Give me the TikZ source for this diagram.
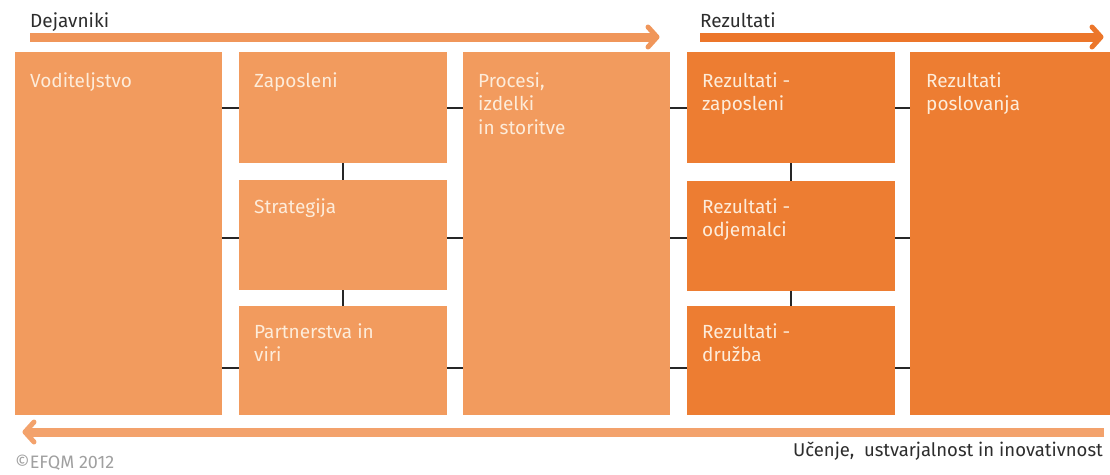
\documentclass[tikz,border=0pt]{standalone}
\usepackage{fontspec}
\setmainfont{Fira Sans}
\usetikzlibrary{calc}
\definecolor{dej}{RGB}{242,155,94}
\definecolor{rez}{RGB}{237,125,50}
\definecolor{dejbar}{RGB}{240,150,90}
\definecolor{rezbar}{RGB}{236,118,42}
\definecolor{learnbar}{RGB}{243,162,108}
\definecolor{boxtext}{RGB}{253,236,218}
\definecolor{head}{RGB}{45,45,45}
\definecolor{copy}{RGB}{160,160,160}
\newcommand{\lines}[1]{\begin{tabular}[t]{@{}l@{}}#1\end{tabular}}
\begin{document}
\begin{tikzpicture}[x=1pt,y=-1pt,
  box/.style={anchor=north west, inner sep=0pt, outer sep=0pt},
  lbl/.style={anchor=base west, inner sep=0pt, text=boxtext, font=\fontsize{19}{23.5}\selectfont},
  headlbl/.style={anchor=base west, inner sep=0pt, text=head, font=\fontsize{19}{22}\selectfont},
  tick/.style={draw=black!85, line width=2pt},
  bar/.style={line width=9pt},
  chev/.style={line width=5pt, line cap=round, line join=round}]
\useasboundingbox (0,0) rectangle (1110,474);
% boxes
\node[box, fill=dej, minimum width=207pt, minimum height=363pt] (vod) at (15,52) {};
\node[box, fill=dej, minimum width=208pt, minimum height=111pt] (zap) at (239,52) {};
\node[box, fill=dej, minimum width=208pt, minimum height=110pt] (str) at (239,180) {};
\node[box, fill=dej, minimum width=208pt, minimum height=109pt] (par) at (239,306) {};
\node[box, fill=dej, minimum width=207pt, minimum height=363pt] (pro) at (463,52) {};
\node[box, fill=rez, minimum width=208pt, minimum height=111pt] (rzap) at (687,52) {};
\node[box, fill=rez, minimum width=208pt, minimum height=110pt] (rodj) at (687,181) {};
\node[box, fill=rez, minimum width=208pt, minimum height=109pt] (rdru) at (687,306) {};
\node[box, fill=rez, minimum width=200pt, minimum height=363pt] (rpos) at (910,52) {};
% labels
\node[lbl] (tvod) at ($(vod.north west)+(15,35)$) {Voditeljstvo};
\node[lbl] (tzap) at ($(zap.north west)+(15,35)$) {Zaposleni};
\node[lbl] (tstr) at ($(str.north west)+(15,33)$) {Strategija};
\node[lbl] (tpar) at ($(par.north west)+(15,32)$) {\lines{Partnerstva in\\viri}};
\node[lbl] (tpro) at ($(pro.north west)+(15,35)$) {\lines{Procesi,\\izdelki\\in storitve}};
\node[lbl] (trzap) at ($(rzap.north west)+(15,35)$) {\lines{Rezultati -\\zaposleni}};
\node[lbl] (trodj) at ($(rodj.north west)+(15,32)$) {\lines{Rezultati -\\odjemalci}};
\node[lbl] (trdru) at ($(rdru.north west)+(15,32)$) {\lines{Rezultati -\\družba}};
\node[lbl] (trpos) at ($(rpos.north west)+(16,35)$) {\lines{Rezultati\\poslovanja}};
% horizontal ticks
\foreach \yy in {108,238,368}{
  \draw[tick] (vod.east |- 0,\yy) -- (zap.west |- 0,\yy);
  \draw[tick] (zap.east |- 0,\yy) -- (pro.west |- 0,\yy);
  \draw[tick] (pro.east |- 0,\yy) -- (rzap.west |- 0,\yy);
  \draw[tick] (rzap.east |- 0,\yy) -- (rpos.west |- 0,\yy);
}
% vertical ticks
\draw[tick] (zap.south -| 343,0) -- (str.north -| 343,0);
\draw[tick] (str.south -| 343,0) -- (par.north -| 343,0);
\draw[tick] (rzap.south -| 791,0) -- (rodj.north -| 791,0);
\draw[tick] (rodj.south -| 791,0) -- (rdru.north -| 791,0);
% headings
\node[headlbl] (hdej) at (30,27) {Dejavniki};
\node[headlbl] (hrez) at (700,27) {Rezultati};
% top arrows
\coordinate (d0) at (30,37);
\coordinate (d1) at (657,37);
\draw[bar, draw=dejbar] (d0) -- ($(d1)+(-3,0)$);
\draw[chev, draw=dejbar] ($(d1)+(-9,-10)$) -- (d1) -- ($(d1)+(-9,10)$);
\coordinate (r0) at (700,37);
\coordinate (r1) at (1101,37);
\draw[bar, draw=rezbar] (r0) -- ($(r1)+(-3,0)$);
\draw[chev, draw=rezbar] ($(r1)+(-9,-10)$) -- (r1) -- ($(r1)+(-9,10)$);
% bottom arrow
\coordinate (l0) at (1104,432);
\coordinate (l1) at (25,432);
\draw[bar, draw=learnbar] (l0) -- ($(l1)+(3,0)$);
\draw[chev, draw=learnbar] ($(l1)+(9,-10)$) -- (l1) -- ($(l1)+(9,10)$);
\node[anchor=base east, inner sep=0pt, text=head, font=\fontsize{18.5}{22}\selectfont] (learn) at (1103,456) {Učenje,\ \ ustvarjalnost in inovativnost};
\node[anchor=base west, inner sep=0pt, text=copy, font=\fontsize{18}{20}\selectfont] (efqm) at (15,468) {©EFQM 2012};
\end{tikzpicture}
\end{document}
